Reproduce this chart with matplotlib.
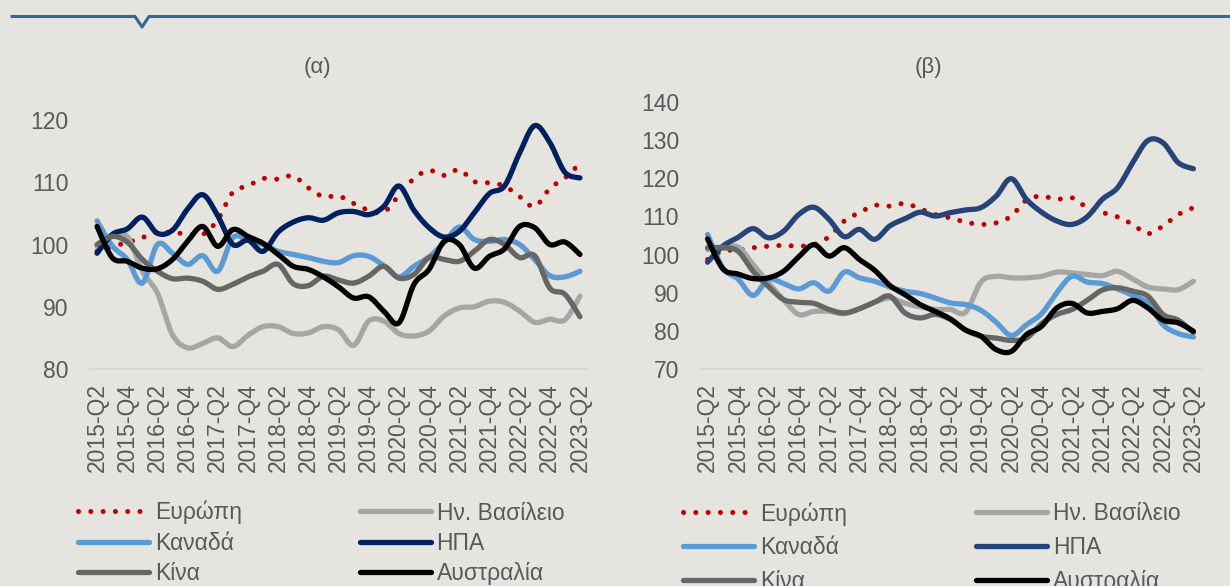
import numpy as np
import matplotlib
matplotlib.use("Agg")
import matplotlib.pyplot as plt
from matplotlib.lines import Line2D

plt.rcParams["font.family"] = ["Liberation Sans", "DejaVu Sans"]

BG = "#E5E4DF"
TXT = "#595959"

# quarterly categories 2015-Q2 .. 2023-Q2, labelled every second quarter
quarters = [f"{y}-Q{q}" for y in range(2015, 2024) for q in range(1, 5)][1:34]
tick_pos = list(range(0, len(quarters), 2))
tick_labels = [quarters[i] for i in tick_pos]

names = ["Ευρώπη", "Ην. Βασίλειο", "Καναδά", "ΗΠΑ", "Κίνα", "Αυστραλία"]

# panel (α)
a_europe = [98.9, 99.7, 100.3, 101.1, 102.0, 101.9, 101.7, 101.6, 104.0, 108.4, 109.4,
            110.6, 110.5, 111.0, 109.1, 107.7, 107.8, 106.6, 105.5, 105.2, 107.9, 110.6,
            111.9, 111.1, 112.0, 110.1, 109.9, 109.4, 107.7, 106.1, 109.0, 110.7, 113.0]
a_uk = [99.7, 101.3, 101.3, 95.7, 92.2, 85.5, 83.4, 84.1, 85.0, 83.6, 85.4, 86.8, 86.8,
        85.7, 85.8, 86.8, 86.3, 83.8, 87.7, 87.7, 85.7, 85.3, 86.1, 88.5, 89.8, 90.0,
        90.9, 90.7, 89.3, 87.5, 88.0, 87.9, 91.7]
a_canada = [103.8, 99.8, 97.6, 93.8, 100.0, 98.6, 96.8, 98.2, 95.7, 101.1, 100.7, 100.0,
            98.9, 98.4, 97.9, 97.3, 97.1, 98.2, 98.1, 96.6, 94.8, 96.5, 98.0, 100.3, 102.8,
            100.8, 100.5, 100.8, 100.0, 97.6, 95.0, 94.8, 95.7]
a_usa = [98.6, 101.6, 102.5, 104.4, 101.8, 102.3, 105.7, 108.0, 104.6, 100.0, 100.7, 98.9,
         102.0, 103.6, 104.3, 103.9, 105.1, 105.3, 104.8, 106.1, 109.4, 105.5, 102.7,
         101.2, 102.1, 105.1, 108.2, 109.4, 114.7, 119.1, 116.4, 111.6, 110.7]
a_china = [100.0, 101.3, 100.4, 97.6, 95.7, 94.5, 94.6, 94.1, 92.8, 93.6, 94.8, 95.7, 96.8,
           93.7, 93.4, 94.9, 94.3, 93.8, 94.9, 96.5, 94.6, 95.2, 97.9, 97.6, 97.3, 98.9,
           100.8, 100.0, 97.9, 98.2, 93.0, 92.0, 88.4]
a_australia = [102.9, 97.9, 97.3, 96.2, 96.1, 97.6, 100.5, 102.9, 99.7, 102.4, 101.3, 100.2,
               98.4, 96.5, 96.0, 94.8, 93.2, 91.4, 91.6, 89.3, 87.4, 93.6, 96.0, 100.5,
               100.0, 96.2, 98.1, 99.3, 102.9, 102.7, 100.0, 100.4, 98.4]

# panel (β)
b_europe = [98.7, 100.9, 101.2, 101.8, 102.2, 102.4, 102.2, 102.6, 104.7, 108.8, 111.0,
            112.9, 112.7, 113.4, 112.0, 110.5, 109.6, 108.5, 107.9, 108.3, 110.1, 114.3,
            115.3, 114.5, 114.9, 112.3, 111.0, 109.9, 107.9, 105.5, 107.5, 110.5, 112.3]
b_uk = [101.3, 101.8, 102.0, 97.4, 92.6, 88.2, 84.3, 85.1, 85.1, 84.5, 85.8, 87.5, 88.6,
        87.2, 86.3, 85.6, 85.6, 84.9, 92.8, 94.3, 93.9, 93.9, 94.3, 95.4, 95.2, 94.8,
        94.5, 95.6, 93.6, 91.5, 91.0, 90.8, 93.0]
b_canada = [105.3, 96.5, 93.6, 89.3, 93.5, 92.4, 91.0, 92.6, 90.4, 95.4, 93.9, 93.0, 91.5,
            90.4, 89.8, 88.6, 87.3, 86.9, 85.4, 82.3, 78.8, 81.6, 84.5, 90.0, 94.3, 92.8,
            92.4, 91.0, 89.3, 87.2, 81.6, 79.3, 78.4]
b_usa = [98.0, 102.2, 104.5, 106.8, 104.4, 106.1, 110.5, 112.4, 109.2, 104.7, 106.6, 104.0,
         107.5, 109.4, 111.1, 110.1, 111.0, 111.7, 112.3, 115.3, 119.9, 114.5, 111.1,
         108.8, 107.9, 109.9, 114.5, 117.5, 124.1, 129.9, 129.3, 124.1, 122.5]
b_china = [101.8, 101.8, 100.9, 95.6, 91.7, 88.2, 87.5, 87.2, 85.6, 84.7, 85.8, 87.5, 89.1,
           84.7, 83.4, 84.3, 83.0, 80.2, 78.6, 78.1, 77.5, 78.1, 81.9, 84.3, 85.6, 88.0,
           90.7, 91.3, 90.4, 89.1, 84.3, 82.8, 79.6]
b_australia = [104.1, 96.3, 94.9, 93.7, 93.9, 95.6, 99.4, 102.6, 99.6, 101.8, 98.7, 95.9,
               91.9, 89.5, 86.9, 85.1, 83.1, 80.2, 78.6, 75.1, 74.6, 79.0, 81.2, 86.0, 87.2,
               84.7, 85.1, 85.8, 88.0, 86.0, 82.8, 82.1, 79.9]


def smooth(vals, n=12):
    """Excel-style smoothed line: Bezier segments with Catmull-Rom tangents."""
    y = np.asarray(vals, float)
    x = np.arange(len(y), dtype=float)
    pts = np.stack([x, y], 1)
    ext = np.vstack([pts[:1], pts, pts[-1:]])
    t = np.linspace(0, 1, n, endpoint=False)[:, None]
    out = []
    for i in range(len(pts) - 1):
        p0, p1 = ext[i + 1], ext[i + 2]
        c1 = p0 + (ext[i + 2] - ext[i]) / 6.0
        c2 = p1 - (ext[i + 3] - ext[i + 1]) / 6.0
        seg = ((1 - t) ** 3) * p0 + 3 * ((1 - t) ** 2) * t * c1 + 3 * (1 - t) * t ** 2 * c2 + t ** 3 * p1
        out.append(seg)
    out.append(pts[-1:])
    out = np.vstack(out)
    return out[:, 0], out[:, 1]


def panel(ax, series, colors, ylim, yticks):
    ax.set_facecolor(BG)
    for vals, col in zip(series, colors):
        xs, ys = smooth(vals)
        if col == "dots":
            ax.plot(xs, ys, color="#C00000", lw=3.6, ls=(0, (0.01, 2.45)),
                    dash_capstyle="round", solid_capstyle="round")
        else:
            ax.plot(xs, ys, color=col, lw=3.8, solid_capstyle="round", solid_joinstyle="round")
    ax.set_xlim(-0.5, len(quarters) - 0.5)
    ax.set_ylim(*ylim)
    ax.set_yticks(yticks)
    ax.set_xticks(tick_pos)
    ax.set_xticklabels(tick_labels, rotation=90, fontsize=16.5, color=TXT)
    ax.tick_params(axis="y", length=0, pad=15, labelsize=16.5, labelcolor=TXT)
    ax.tick_params(axis="x", length=0, pad=10)
    for s in ("top", "right", "left"):
        ax.spines[s].set_visible(False)
    ax.spines["bottom"].set_color("#D6D5D0")
    ax.spines["bottom"].set_linewidth(1.2)


def legend(ax, colors, x0, y0, colsp, lsp):
    order = [0, 2, 4, 1, 3, 5]
    handles = []
    for k in order:
        c = colors[k]
        if c == "dots":
            h = Line2D([], [], color="#C00000", lw=3.6, ls=(0, (0.01, 2.45)), dash_capstyle="round")
        else:
            h = Line2D([], [], color=c, lw=3.8, solid_capstyle="round")
        handles.append(h)
    leg = ax.legend(handles, [names[k] for k in order], ncol=2, frameon=False,
                    loc="upper left", bbox_to_anchor=(x0, y0), bbox_transform=fig.transFigure,
                    borderpad=0, borderaxespad=0, handlelength=3.1, handletextpad=0.25,
                    columnspacing=colsp, labelspacing=lsp, fontsize=16.5)
    for t in leg.get_texts():
        t.set_color(TXT)


fig = plt.figure(figsize=(12.3, 5.86), dpi=100, facecolor=BG)
W, H = 1230.0, 586.0

# header rule with the small notch
fig.add_artist(Line2D(np.array([12, 135, 142, 149, 1230]) / W,
                      1 - np.array([16.5, 16.5, 27, 16.5, 16.5]) / H,
                      color="#3B6396", lw=2.2, solid_joinstyle="round"))

colors_a = ["dots", "#A6A6A6", "#5B9BD5", "#002060", "#666666", "#000000"]
colors_b = ["dots", "#A6A6A6", "#5B9BD5", "#264478", "#666666", "#000000"]

ax1 = fig.add_axes([89.5 / W, 1 - 369 / H, 498 / W, 249 / H])
panel(ax1, [a_europe, a_uk, a_canada, a_usa, a_china, a_australia], colors_a,
      (80, 120), [80, 90, 100, 110, 120])

ax2 = fig.add_axes([700 / W, 1 - 369 / H, 501 / W, 267 / H])
panel(ax2, [b_europe, b_uk, b_canada, b_usa, b_china, b_australia], colors_b,
      (70, 140), [70, 80, 90, 100, 110, 120, 130, 140])

fig.text(317 / W, 1 - 67 / H, "(α)", ha="center", va="center", fontsize=16, color=TXT)
fig.text(928 / W, 1 - 67 / H, "(β)", ha="center", va="center", fontsize=16, color=TXT)

legend(ax1, colors_a, 78 / W, 1 - 501 / H, 5.15, 0.32)
legend(ax2, colors_b, 683 / W, 1 - 502 / H, 5.65, 0.46)

fig.savefig("out.png", dpi=100, facecolor=BG)
